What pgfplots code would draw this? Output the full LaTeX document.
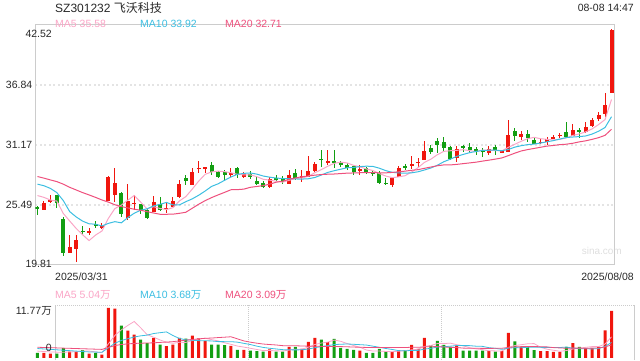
\documentclass[border=0pt]{standalone}
\usepackage{pgfplots}
\pgfplotsset{compat=1.18}
\usepackage{pgfplotstable}
\usepackage{fontspec}
\setmainfont{Liberation Sans}
\newfontfamily\cjk{Noto Sans CJK SC}
\definecolor{up}{RGB}{240,22,14}
\definecolor{dn}{RGB}{18,158,18}
\definecolor{maA}{RGB}{250,165,198}
\definecolor{maB}{RGB}{60,190,225}
\definecolor{maC}{RGB}{238,80,125}
\definecolor{txt}{RGB}{40,40,40}
\definecolor{brd}{RGB}{204,204,204}
\definecolor{grd}{RGB}{228,228,228}

\pgfplotstableread{
x o h l c v
1 25.04 25.87 25.00 25.68 1.18
2 25.82 26.39 25.63 25.91 1.00
5 20.97 22.65 20.90 21.51 1.50
6 21.35 22.65 20.07 22.18 1.50
8 22.89 23.28 22.65 22.98 1.00
10 23.36 23.76 23.19 23.45 0.78
11 25.89 28.26 25.89 28.17 11.77
12 26.43 28.96 25.80 27.54 11.60
14 24.23 27.47 24.07 25.87 6.40
15 25.60 26.43 25.01 25.68 5.50
18 24.85 26.34 24.80 25.74 4.70
20 25.11 25.80 24.70 25.20 2.75
21 25.33 26.22 25.33 25.87 3.10
22 26.27 27.85 26.12 27.47 4.70
24 27.38 29.02 27.38 28.58 5.25
25 28.89 29.68 28.49 28.99 4.60
26 28.87 29.11 28.54 29.06 4.00
30 28.37 29.02 28.17 28.47 2.80
32 28.14 28.58 28.07 28.39 1.90
36 27.22 28.17 27.07 27.92 2.00
39 27.50 28.80 27.50 28.33 2.60
41 28.09 28.80 27.69 28.18 2.10
42 28.17 30.15 28.17 28.71 3.77
43 28.71 29.59 28.58 29.37 4.70
45 29.43 30.69 29.27 29.68 3.70
50 28.71 29.27 28.33 28.89 1.70
55 27.38 28.17 27.22 28.07 1.40
56 28.17 29.21 28.11 29.02 1.80
58 29.23 30.12 28.87 29.32 3.06
59 29.46 29.91 29.11 29.56 2.10
60 29.75 31.54 29.75 30.60 4.70
65 29.91 31.10 29.53 30.79 2.90
70 30.44 31.07 30.22 30.76 1.60
72 30.38 30.69 30.38 30.60 1.60
73 30.53 33.53 30.53 32.11 5.90
75 31.92 32.49 31.64 32.23 2.60
78 31.35 31.73 31.23 31.45 1.60
79 31.48 31.89 31.17 31.73 1.60
80 31.80 32.11 31.70 31.89 1.40
81 32.05 32.27 31.80 32.14 1.40
83 32.05 33.12 32.05 32.58 3.50
85 32.42 33.31 32.27 32.90 2.30
86 32.99 33.69 32.90 33.53 2.30
87 33.63 34.26 33.44 34.00 2.60
88 34.07 36.06 33.84 34.95 6.50
89 36.06 42.10 36.06 42.00 11.06
}\upT

\pgfplotstableread{
x o h l c v
0 25.33 25.35 24.54 25.14 1.18
3 26.41 26.43 25.20 25.71 1.00
4 24.16 24.38 20.69 20.97 2.27
7 23.03 23.53 22.65 22.93 1.80
9 23.64 23.97 23.31 23.55 1.18
13 26.59 26.75 24.38 24.64 7.60
16 25.55 25.58 24.64 25.01 4.30
17 25.01 25.23 24.16 24.29 3.50
19 25.58 26.22 24.92 25.01 3.10
23 28.07 28.33 27.38 27.79 4.55
27 29.27 29.53 28.33 28.64 3.10
28 28.58 28.71 28.01 28.14 3.10
29 28.58 28.80 27.85 28.33 3.00
31 28.99 29.08 28.01 28.33 1.90
33 28.42 28.71 27.95 28.14 1.70
34 27.79 28.17 27.38 27.47 1.60
35 27.54 27.76 27.07 27.22 1.50
37 28.07 28.33 27.76 27.88 1.50
38 27.95 28.20 27.47 27.69 1.50
40 28.52 28.89 27.85 28.07 2.60
44 29.84 30.69 29.11 29.77 4.30
46 29.62 30.69 29.02 29.56 4.50
47 29.49 29.65 29.11 29.27 2.35
48 29.27 29.43 28.80 29.02 2.10
49 29.18 29.27 28.33 28.64 1.90
51 28.96 29.11 28.42 28.61 1.18
52 28.58 28.80 28.26 28.52 1.18
53 28.49 28.71 27.47 27.60 2.10
54 27.57 28.07 27.38 27.50 1.40
57 29.11 29.34 28.80 29.06 1.80
61 30.91 31.17 30.31 30.53 3.00
62 31.54 31.86 30.44 31.17 4.00
63 31.48 31.89 30.60 30.91 3.06
64 30.98 31.07 29.75 29.84 2.60
66 31.07 31.12 30.47 30.85 1.70
67 30.98 31.38 30.47 30.69 1.70
68 30.79 31.00 30.22 30.47 1.70
69 30.62 30.85 30.06 30.57 1.70
71 30.98 31.17 30.22 30.60 1.50
74 32.49 32.75 31.54 32.02 3.90
76 32.21 32.58 31.42 31.80 2.60
77 31.64 31.80 31.23 31.26 1.80
82 32.37 33.31 31.80 31.95 2.60
84 32.58 32.75 31.86 32.42 2.60
}\dnT

\pgfplotstableread{
x m5 m10 m20 v5 v10 v20
0 26.37 27.45 28.17 1.60 2.20 2.50
1 26.20 27.30 28.02 1.50 2.10 2.45
2 25.95 27.05 27.85 1.40 2.00 2.40
3 25.85 26.65 27.69 1.35 1.90 2.35
4 24.68 25.90 27.45 1.33 1.80 2.30
5 23.96 24.85 27.15 1.39 1.70 2.25
6 23.26 24.35 26.90 1.45 1.60 2.20
7 22.66 23.95 26.65 1.61 1.50 2.15
8 22.11 23.70 26.43 1.61 1.40 2.10
9 22.63 23.66 26.20 1.40 1.36 2.05
10 23.02 23.49 25.95 1.25 1.32 2.00
11 24.22 23.74 25.75 3.31 2.38 2.45
12 25.14 23.90 25.50 5.27 3.44 2.90
13 25.47 23.79 25.33 6.59 4.10 3.15
14 25.93 24.28 25.20 7.63 4.51 3.30
15 26.38 24.70 25.08 8.57 4.91 3.40
16 25.75 24.98 24.98 7.08 5.19 3.45
17 25.10 25.12 24.85 5.46 5.36 3.50
18 25.32 25.39 24.72 4.88 5.73 3.55
19 25.15 25.54 24.60 4.22 5.93 3.64
20 25.05 25.72 24.60 3.67 6.12 3.72
21 25.22 25.49 24.61 3.43 5.26 3.82
22 25.86 25.48 24.69 3.67 4.57 4.00
23 26.27 25.79 24.79 3.64 4.26 4.18
24 26.98 26.06 25.17 4.07 4.15 4.33
25 27.74 26.40 25.55 4.44 4.06 4.48
26 28.38 26.80 25.89 4.62 4.03 4.61
27 28.61 27.24 26.18 4.30 3.99 4.67
28 28.68 27.48 26.43 4.01 3.83 4.78
29 28.63 27.81 26.67 3.56 3.82 4.87
30 28.53 28.13 26.92 3.20 3.82 4.97
31 28.38 28.38 26.93 2.78 3.70 4.48
32 28.33 28.47 26.98 2.54 3.42 3.99
33 28.33 28.51 27.15 2.26 3.14 3.70
34 28.16 28.40 27.23 1.98 2.77 3.46
35 27.91 28.22 27.31 1.72 2.46 3.26
36 27.83 28.11 27.45 1.74 2.26 3.14
37 27.73 28.03 27.63 1.66 2.10 3.04
38 27.64 27.98 27.73 1.62 1.94 2.88
39 27.81 27.98 27.90 1.82 1.90 2.86
40 27.98 27.94 28.04 2.04 1.88 2.85
41 28.03 27.93 28.15 2.06 1.90 2.80
42 28.20 27.96 28.22 2.51 2.09 2.75
43 28.53 28.08 28.30 3.15 2.39 2.76
44 28.82 28.31 28.36 3.49 2.66 2.71
45 29.14 28.56 28.39 3.71 2.88 2.67
46 29.42 28.72 28.41 4.19 3.13 2.69
47 29.53 28.86 28.45 3.91 3.21 2.66
48 29.46 29.00 28.49 3.39 3.27 2.61
49 29.23 29.03 28.51 2.91 3.20 2.55
50 29.08 29.11 28.53 2.51 3.11 2.50
51 28.89 29.15 28.54 1.85 3.02 2.46
52 28.74 29.13 28.55 1.61 2.76 2.42
53 28.45 28.96 28.52 1.61 2.50 2.44
54 28.22 28.73 28.52 1.51 2.21 2.43
55 28.06 28.57 28.56 1.45 1.98 2.43
56 28.14 28.51 28.62 1.58 1.71 2.42
57 28.25 28.49 28.68 1.70 1.66 2.43
58 28.59 28.52 28.76 1.89 1.75 2.51
59 29.01 28.62 28.82 2.03 1.77 2.49
60 29.51 28.79 28.95 2.69 2.07 2.59
61 29.81 28.98 29.07 2.93 2.25 2.64
62 30.24 29.24 29.19 3.37 2.54 2.65
63 30.55 29.57 29.27 3.37 2.63 2.57
64 30.61 29.81 29.27 3.47 2.75 2.48
65 30.65 30.08 29.32 3.11 2.90 2.44
66 30.71 30.26 29.39 2.85 2.89 2.30
67 30.62 30.43 29.46 2.39 2.88 2.27
68 30.53 30.54 29.53 2.12 2.75 2.25
69 30.67 30.64 29.63 1.94 2.71 2.24
70 30.67 30.66 29.72 1.68 2.40 2.23
71 30.62 30.67 29.82 1.64 2.25 2.25
72 30.60 30.61 29.93 1.62 2.01 2.27
73 30.93 30.73 30.15 2.46 2.29 2.46
74 31.22 30.95 30.38 2.90 2.42 2.59
75 31.51 31.09 30.59 3.10 2.39 2.65
76 31.75 31.19 30.72 3.32 2.48 2.69
77 31.88 31.24 30.83 3.36 2.49 2.69
78 31.75 31.34 30.94 2.50 2.48 2.61
79 31.69 31.46 31.05 2.04 2.47 2.59
80 31.63 31.57 31.11 1.80 2.45 2.42
81 31.69 31.72 31.19 1.56 2.44 2.34
82 31.83 31.86 31.23 1.72 2.54 2.27
83 32.06 31.91 31.32 2.10 2.30 2.30
84 32.20 31.95 31.45 2.30 2.17 2.30
85 32.40 32.01 31.55 2.48 2.14 2.27
86 32.68 32.19 31.69 2.66 2.11 2.30
87 33.09 32.46 31.85 2.66 2.19 2.34
88 33.56 32.81 32.07 3.26 2.68 2.58
89 35.46 33.83 32.64 4.95 3.63 3.05
}\maT

\begin{document}
\begin{tikzpicture}[x=1pt,y=1pt]
\useasboundingbox (0,0) rectangle (640,360);
\node[anchor=east, inner sep=0pt, font=\fontsize{10}{12}\selectfont, text=black!13] at (622,109) {sina.com};
\begin{axis}[name=main, at={(55,90)}, anchor=south west, scale only axis,
  width=579pt, height=240pt,
  xmin=-0.31, xmax=89.46, ymin=19.81, ymax=42.52,
  axis line style={brd, line width=0.8pt},
  xtick=\empty,
  ytick={25.49,31.17,36.84}, yticklabels={25.49,31.17,36.84},
  major tick length=0pt,
  yticklabel style={font=\fontsize{10.5}{12}\selectfont, text=txt, inner sep=0pt, xshift=-3pt},
  ymajorgrids, grid style={grd, line width=1.6pt, dash pattern=on 2pt off 2.5pt}]
% wicks
\addplot[draw=none, mark=none, forget plot, error bars/.cd, y dir=both, y explicit, error mark=none,
  error bar style={up, line width=1pt}]
  table[x=x, y expr={(\thisrow{h}+\thisrow{l})/2}, y error expr={(\thisrow{h}-\thisrow{l})/2}] {\upT};
\addplot[draw=none, mark=none, forget plot, error bars/.cd, y dir=both, y explicit, error mark=none,
  error bar style={dn, line width=1pt}]
  table[x=x, y expr={(\thisrow{h}+\thisrow{l})/2}, y error expr={(\thisrow{h}-\thisrow{l})/2}] {\dnT};
% bodies
\addplot[draw=none, mark=none, forget plot, error bars/.cd, y dir=both, y explicit, error mark=none,
  error bar style={up, line width=4pt}]
  table[x=x, y expr={(\thisrow{o}+\thisrow{c})/2}, y error expr={max(abs(\thisrow{c}-\thisrow{o})/2,0.05)}] {\upT};
\addplot[draw=none, mark=none, forget plot, error bars/.cd, y dir=both, y explicit, error mark=none,
  error bar style={dn, line width=4pt}]
  table[x=x, y expr={(\thisrow{o}+\thisrow{c})/2}, y error expr={max(abs(\thisrow{c}-\thisrow{o})/2,0.05)}] {\dnT};
% moving averages
\addplot[maA, line width=1pt, mark=none] table[x=x, y=m5] {\maT};
\addplot[maB, line width=1pt, mark=none] table[x=x, y=m10] {\maT};
\addplot[maC, line width=1pt, mark=none] table[x=x, y=m20] {\maT};
\end{axis}
\node[anchor=north east, inner sep=0pt, font=\fontsize{10.5}{12}\selectfont, text=txt] at (52,330) {42.52};
\node[anchor=south east, inner sep=0pt, font=\fontsize{10.5}{12}\selectfont, text=txt] at (52,92) {19.81};

\draw[brd, line width=0.8pt] (55,0) -- (55,55);
\draw[brd, line width=0.8pt] (634,0) -- (634,55);
\draw[brd, line width=0.8pt, dash pattern=on 1pt off 1pt] (55,55) -- (634,55);
\draw[brd, line width=0.8pt, dash pattern=on 1pt off 1pt] (248,0) -- (248,55);
\draw[brd, line width=0.8pt, dash pattern=on 1pt off 1pt] (441,0) -- (441,55);

\begin{axis}[name=vol, at={(55,5)}, anchor=south west, scale only axis,
  width=579pt, height=50pt,
  xmin=-0.31, xmax=89.46, ymin=0, ymax=11.77,
  axis line style={draw=none}, xtick=\empty, ytick=\empty, clip=false]
\addplot[ybar, bar width=3pt, bar shift=0pt, fill=up, draw=none] table[x=x, y=v] {\upT};
\addplot[ybar, bar width=3pt, bar shift=0pt, fill=dn, draw=none] table[x=x, y=v] {\dnT};
\addplot[maA, line width=0.8pt, mark=none] table[x=x, y=v5] {\maT};
\addplot[maB, line width=0.8pt, mark=none] table[x=x, y=v10] {\maT};
\addplot[maC, line width=0.8pt, mark=none] table[x=x, y=v20] {\maT};
\end{axis}

% texts
\node[anchor=west, inner sep=0pt, font=\fontsize{12}{14}\selectfont, text=txt] at (55,352.5) {SZ301232 {\cjk 飞沃科技}};
\node[anchor=east, inner sep=0pt, font=\fontsize{10.5}{12}\selectfont, text=txt] at (634,352) {08-08 14:47};
\node[anchor=west, inner sep=0pt, font=\fontsize{10.5}{12}\selectfont, text=maA] at (55,336) {MA5 35.58};
\node[anchor=west, inner sep=0pt, font=\fontsize{10.5}{12}\selectfont, text=maB] at (140,336) {MA10 33.92};
\node[anchor=west, inner sep=0pt, font=\fontsize{10.5}{12}\selectfont, text=maC] at (225,336) {MA20 32.71};
\node[anchor=west, inner sep=0pt, font=\fontsize{10.5}{12}\selectfont, text=txt] at (55,83) {2025/03/31};
\node[anchor=east, inner sep=0pt, font=\fontsize{10.5}{12}\selectfont, text=txt] at (634,83) {2025/08/08};
\node[anchor=west, inner sep=0pt, font=\fontsize{10.5}{12}\selectfont, text=maA] at (55,65) {MA5 5.04{\cjk 万}};
\node[anchor=west, inner sep=0pt, font=\fontsize{10.5}{12}\selectfont, text=maB] at (140,65) {MA10 3.68{\cjk 万}};
\node[anchor=west, inner sep=0pt, font=\fontsize{10.5}{12}\selectfont, text=maC] at (225,65) {MA20 3.09{\cjk 万}};
\node[anchor=east, inner sep=0pt, font=\fontsize{10.5}{12}\selectfont, text=txt] at (52,49) {11.77{\cjk 万}};
\node[anchor=east, inner sep=0pt, font=\fontsize{10.5}{12}\selectfont, text=txt] at (52,12) {0};
\end{tikzpicture}
\end{document}
